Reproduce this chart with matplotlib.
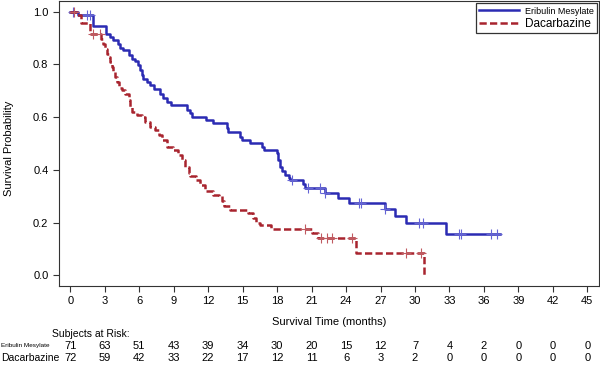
import numpy as np
import matplotlib.pyplot as plt
from matplotlib.transforms import blended_transform_factory

plt.rcParams['font.family'] = ['Liberation Sans', 'DejaVu Sans']

# Kaplan-Meier step data
eri_t = [0, 0.7, 2.0, 3.1, 3.48, 3.76, 4.11, 4.34, 4.63, 5.07, 5.36, 5.65, 5.93, 6.08,
         6.23, 6.37, 6.72, 6.95, 7.32, 7.82, 8.11, 8.40, 8.80, 10.15, 10.45, 10.6, 11.85,
         12.4, 13.6, 13.75, 14.8, 14.95, 15.6, 16.65, 16.85, 17.95, 18.1, 18.25, 18.4,
         18.7, 19.0, 19.1, 20.25, 20.4, 22.15, 23.3, 24.3, 27.4, 28.3, 29.2, 32.7]
eri_s = [1.0, 0.986, 0.947, 0.916, 0.903, 0.891, 0.878, 0.863, 0.853, 0.834, 0.822, 0.812,
         0.796, 0.777, 0.760, 0.746, 0.733, 0.721, 0.708, 0.689, 0.671, 0.658, 0.645, 0.626,
         0.614, 0.601, 0.589, 0.576, 0.557, 0.545, 0.526, 0.513, 0.500, 0.488, 0.476, 0.463,
         0.438, 0.412, 0.394, 0.381, 0.369, 0.362, 0.347, 0.331, 0.312, 0.293, 0.274, 0.252,
         0.224, 0.199, 0.158]
eri_end = 37.4
eri_cens = [0.2, 1.45, 1.74, 19.3, 20.7, 21.7, 22.2, 25.1, 25.3, 27.4, 30.35, 30.7,
            33.8, 34.0, 36.6, 37.1]

dac_t = [0, 0.6, 0.9, 1.75, 2.65, 2.84, 2.98, 3.19, 3.33, 3.48, 3.62, 3.76, 3.91, 4.06,
         4.28, 4.49, 4.78, 5.07, 5.21, 5.36, 5.79, 6.23, 6.5, 6.95, 7.4, 7.7, 7.96, 8.4,
         8.97, 9.4, 9.7, 10.0, 10.3, 10.45, 10.9, 11.3, 11.7, 12.45, 12.9, 13.2, 13.35,
         13.9, 15.5, 15.9, 16.2, 16.5, 17.5, 21.0, 21.55, 24.9, 30.8]
dac_s = [1.0, 0.986, 0.958, 0.916, 0.897, 0.878, 0.859, 0.840, 0.828, 0.809, 0.790, 0.771,
         0.752, 0.733, 0.712, 0.702, 0.689, 0.664, 0.639, 0.620, 0.607, 0.599, 0.582, 0.563,
         0.551, 0.532, 0.513, 0.488, 0.475, 0.457, 0.438, 0.412, 0.388, 0.375, 0.362, 0.343,
         0.318, 0.305, 0.299, 0.280, 0.262, 0.246, 0.237, 0.218, 0.199, 0.190, 0.174, 0.161,
         0.142, 0.086, 0.0]
dac_end = 30.8
dac_cens = [0.3, 2.0, 2.55, 20.4, 21.8, 22.3, 22.8, 24.5, 29.25, 30.55]

xticks = list(range(0, 46, 3))
risk_eri = [71, 63, 51, 43, 39, 34, 30, 20, 15, 12, 7, 4, 2, 0, 0, 0]
risk_dac = [72, 59, 42, 33, 22, 17, 12, 11, 6, 3, 2, 0, 0, 0, 0, 0]

blue = '#2b2bb3'
red = '#a8242e'

fig = plt.figure(figsize=(6, 3.66), dpi=100)
ax = fig.add_axes([0.098, 0.219, 0.9, 0.778])


def km(t, s, end):
    x = np.append(t, end)
    y = np.append(s, s[-1])
    return x, y


def surv_at(t, s, c):
    idx = np.searchsorted(t, c, side='right') - 1
    return np.array(s)[idx]


x, y = km(eri_t, eri_s, eri_end)
ax.step(x, y, where='post', color=blue, lw=1.8, label='Eribulin Mesylate')
ax.plot(eri_cens, surv_at(eri_t, eri_s, eri_cens), '+', color='#6464d6',
        markersize=7.5, markeredgewidth=0.8)

x, y = km(dac_t, dac_s, dac_end)
ax.step(x, y, where='post', color=red, lw=1.8, dashes=(2.9, 1.3), label='Dacarbazine')
ax.plot(dac_cens, surv_at(dac_t, dac_s, dac_cens), '+', color='#c05a60',
        markersize=7.5, markeredgewidth=0.8)

ax.set_xlim(-1, 46)
ax.set_ylim(-0.04, 1.04)
ax.set_xticks(xticks)
ax.set_yticks([0, 0.2, 0.4, 0.6, 0.8, 1.0])
ax.set_yticklabels(['0.0', '0.2', '0.4', '0.6', '0.8', '1.0'])
ax.tick_params(labelsize=8, length=4, width=0.8, color='#333333')
for sp in ax.spines.values():
    sp.set_linewidth(0.8)
    sp.set_color('#333333')
ax.set_xlabel('Survival Time (months)', fontsize=8, labelpad=8)
fig.text(9 / 600, 1 - 148 / 366, 'Survival Probability', fontsize=8,
         rotation=90, ha='center', va='center')

leg = ax.legend(loc='upper right', fontsize=8, frameon=True, fancybox=False,
                edgecolor='black', borderaxespad=0.15, handlelength=3.6,
                borderpad=0.3, labelspacing=0.15, handletextpad=0.5)
leg.get_frame().set_linewidth(0.9)
leg.get_texts()[0].set_fontsize(6.5)
leg.get_texts()[1].set_fontsize(8.5)

# number at risk table
tr = blended_transform_factory(ax.transData, fig.transFigure)
fig.text(52 / 600, 1 - 334 / 366, 'Subjects at Risk:', fontsize=7.5, va='center')
fig.text(0.002, 1 - 346 / 366, 'Eribulin Mesylate', fontsize=4.6, va='center')
fig.text(0.002, 1 - 358 / 366, 'Dacarbazine', fontsize=7.5, va='center')
for xt, a, b in zip(xticks, risk_eri, risk_dac):
    ax.text(xt, 1 - 346 / 366, str(a), transform=tr, fontsize=8, ha='center', va='center')
    ax.text(xt, 1 - 358 / 366, str(b), transform=tr, fontsize=8, ha='center', va='center')

fig.savefig('out.png', dpi=100)
